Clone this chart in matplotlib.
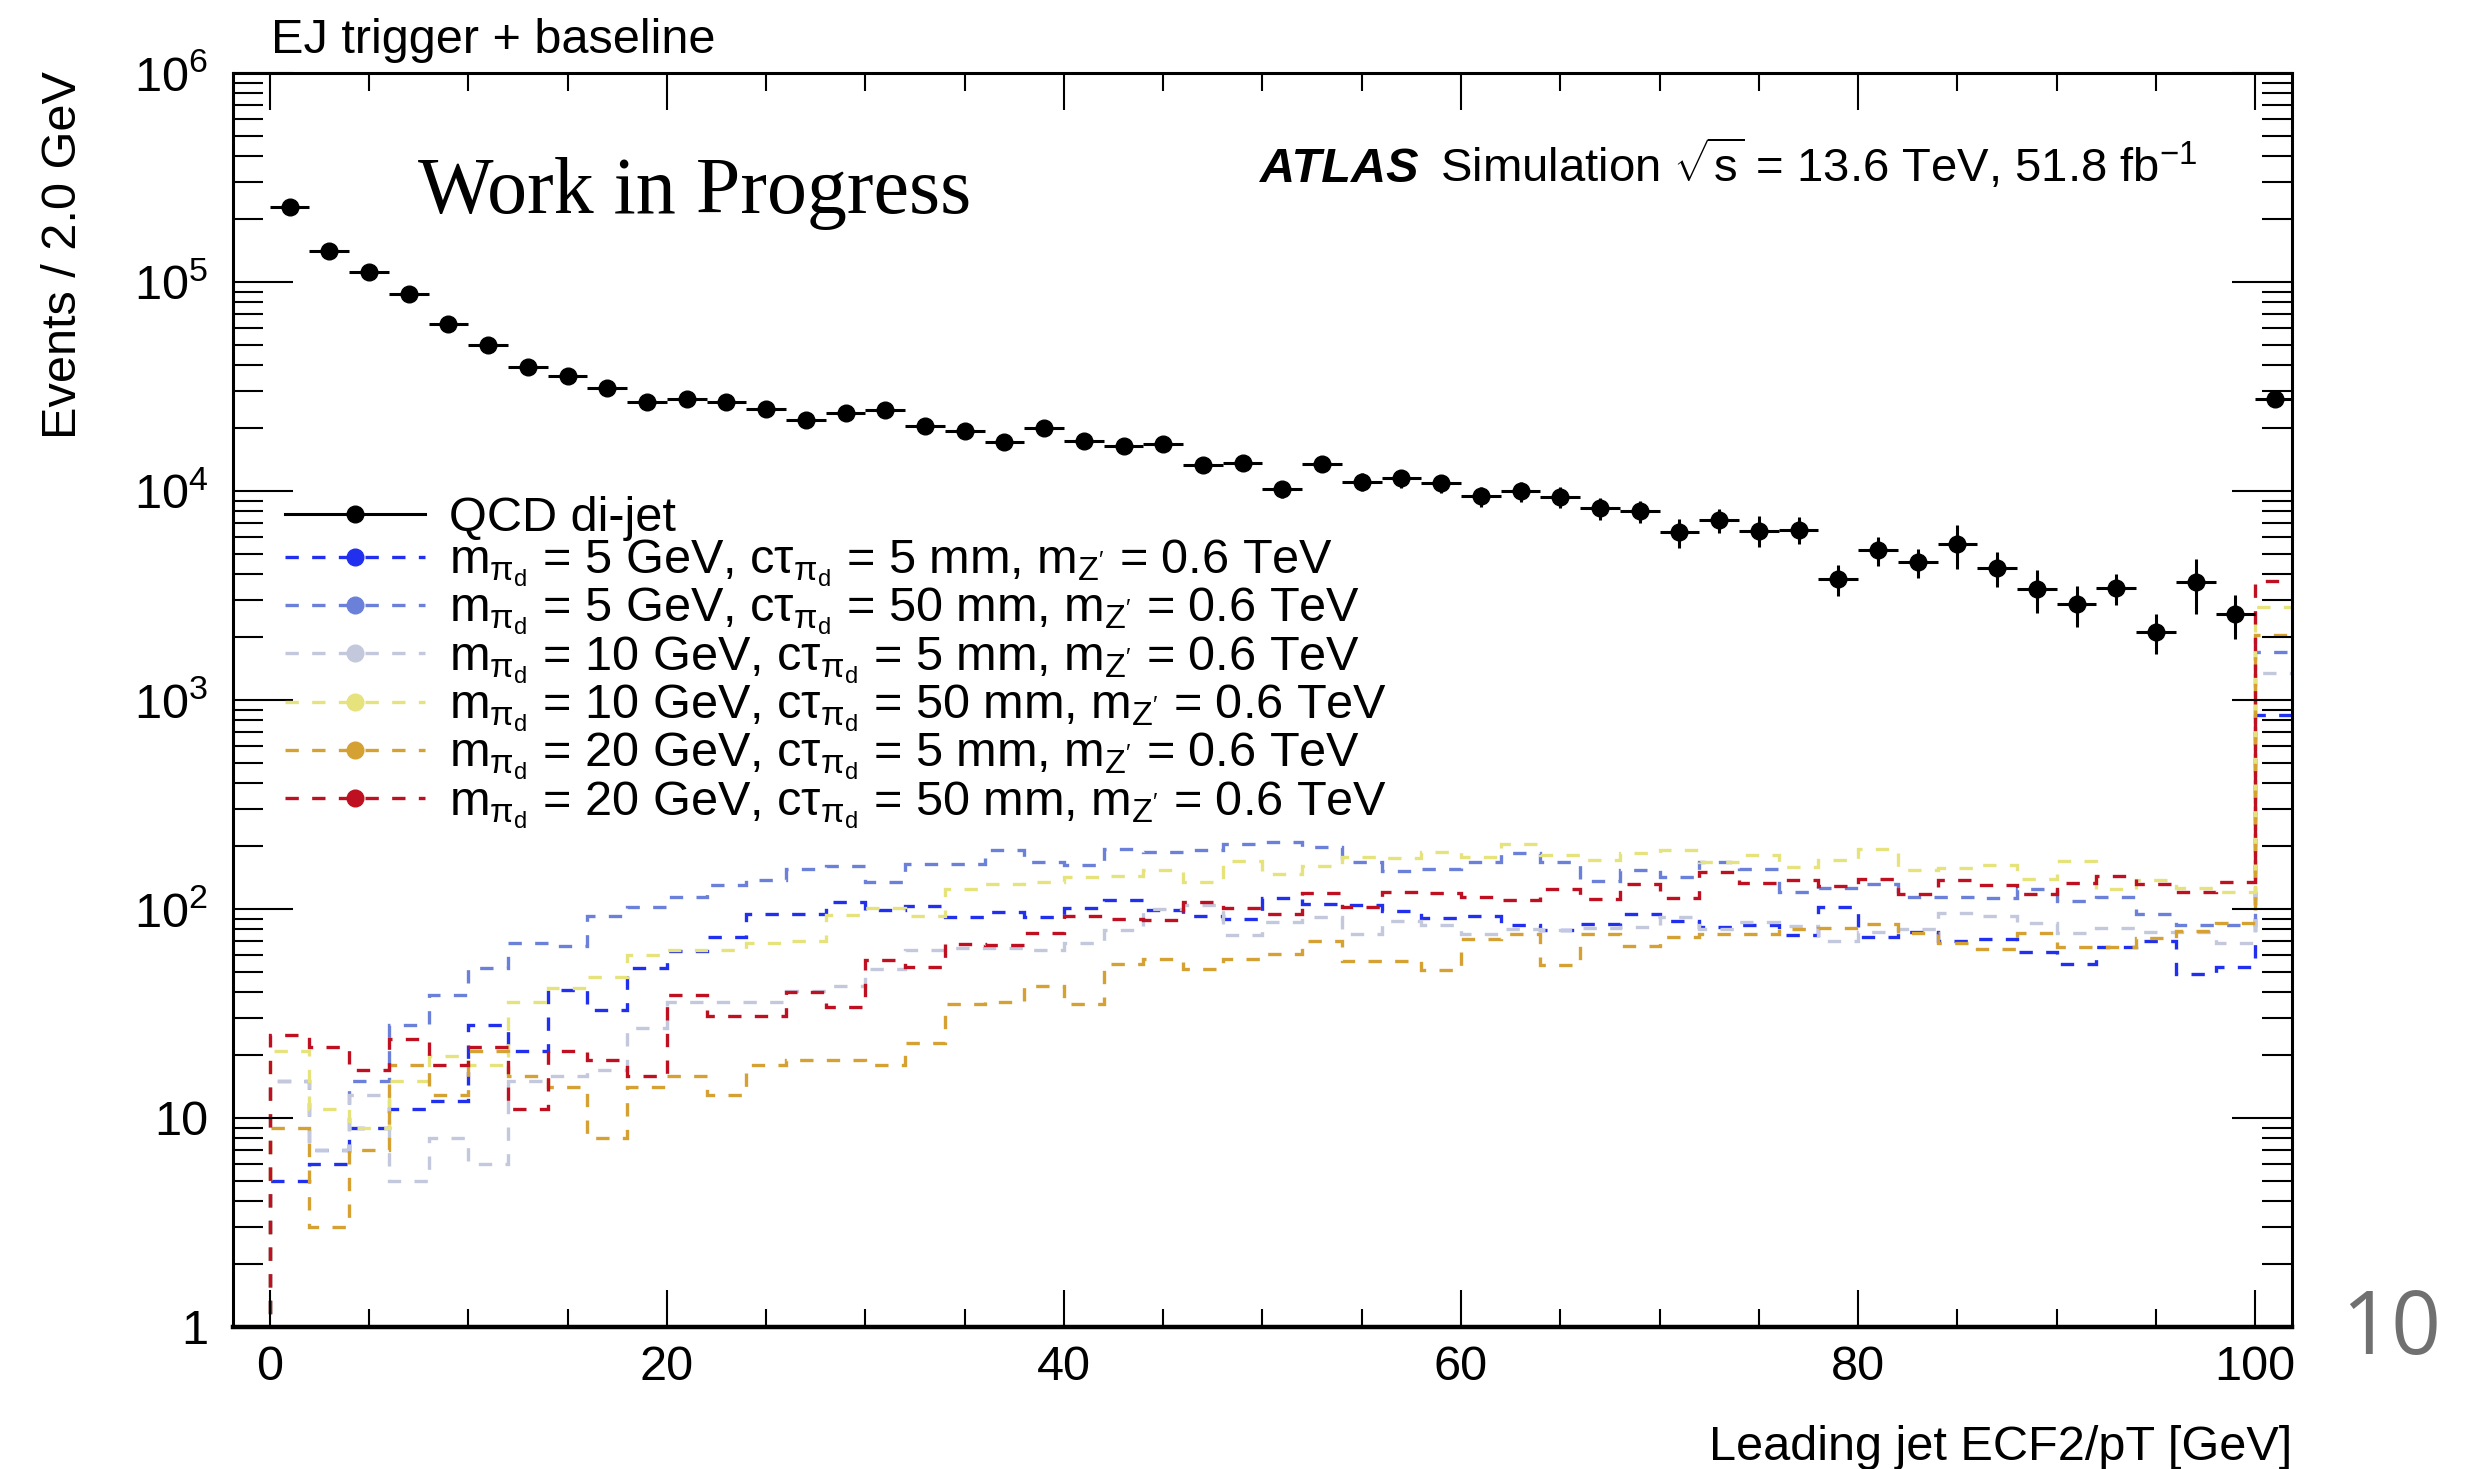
import numpy as np
import matplotlib
matplotlib.use('Agg')
import matplotlib.pyplot as plt
from matplotlib.lines import Line2D
from matplotlib.ticker import MultipleLocator, LogLocator, NullFormatter

plt.rcParams['font.family'] = ['Liberation Sans', 'DejaVu Sans']
plt.rcParams['mathtext.fontset'] = 'custom'
plt.rcParams['mathtext.rm'] = 'Liberation Sans'
plt.rcParams['mathtext.it'] = 'Liberation Sans:italic'
plt.rcParams['mathtext.bf'] = 'Liberation Sans:bold'

# bins: underflow [-2,0], 50 bins of 2 GeV, overflow [100,102]
bin_edges = np.arange(-2, 104, 2)

# QCD di-jet, bins 0..100 + overflow
qcd_vals = [229000, 141000, 112000, 87800, 63100, 50100, 39000, 35600, 31100, 26600,
            27500, 26600, 24800, 21900, 23500, 24300, 20500, 19400, 17200, 20100,
            17400, 16400, 16700, 13300, 13600, 10200, 13500, 11100, 11500, 10900,
            9440, 10000, 9380, 8250, 8000, 6350, 7250, 6470, 6540, 3780,
            5200, 4570, 5550, 4300, 3390, 2870, 3420, 2120, 3650, 2570,
            27500]
qcd_relerr = [0.02] * 9 + [0.05] * 14 + \
             [0.08, 0.08, 0.09, 0.09, 0.10, 0.10, 0.10, 0.11, 0.11, 0.12, 0.12, 0.12] + \
             [0.16, 0.13, 0.17, 0.15, 0.17, 0.16, 0.16, 0.24, 0.19, 0.23, 0.22, 0.17, 0.22, 0.29, 0.24] + \
             [0.03]

# signals, bins 0..100 (50 values), then overflow
sig_m5_ct5 = [5.0, 6.0, 9.0, 11.0, 12.0, 27.9, 21.0, 40.9, 32.8, 51.9,
              63, 73.8, 94.7, 95, 108, 99, 103, 92, 96.5, 92,
              101.5, 110, 99, 92.6, 90, 112.5, 106, 104, 98, 91,
              92.6, 84, 79, 84.6, 94.7, 88, 81.8, 84, 75, 102,
              73.8, 78, 69.9, 72, 62, 54.8, 65.5, 70.6, 49, 52.9]
sig_m5_ct50 = [15.0, 7.0, 15.0, 27.9, 38.8, 51.9, 68.6, 66.8, 92.6, 102,
               114, 130, 138, 155, 160, 134, 165, 165, 191, 168,
               162, 193, 187, 191, 205, 208, 199, 168, 152, 155,
               168, 185, 167, 136, 154, 142, 168, 155, 120, 126,
               131, 114.5, 114, 113, 125, 109.6, 114.5, 94.7, 84, 83.4]
sig_m10_ct5 = [15.0, 7.0, 12.9, 5.0, 8.0, 6.0, 15.0, 15.9, 16.9, 26.9,
               36, 36, 36, 40.3, 42.9, 51.7, 63.7, 65, 65, 63.7,
               68.6, 79.5, 100, 105, 75, 87, 92, 75.7, 87.7, 84,
               75.7, 80, 79, 81, 81.8, 92, 80, 87, 83, 69.9,
               78, 80, 95.5, 92.6, 86, 76.5, 81, 78, 78, 68.6]
sig_m10_ct50 = [21.0, 11.0, 9.0, 15.0, 19.9, 17.9, 36, 41.8, 47, 59.9,
                63.7, 63.7, 68.6, 69.9, 93.7, 101.5, 93, 124, 132, 135,
                143, 144, 154, 134, 170, 146.5, 161, 178, 176, 187,
                178, 204, 181, 171, 186, 191, 168, 182, 158, 171,
                193, 154, 157, 162, 139, 170, 125, 138, 126, 120]
sig_m20_ct5 = [9.0, 3.0, 7.0, 17.9, 12.9, 21.0, 15.9, 14.0, 8.0, 14.0,
               15.9, 12.9, 17.9, 18.9, 18.9, 17.9, 22.8, 35, 35.8, 42.9,
               35, 54.8, 57.7, 51.7, 57.7, 60.8, 70.6, 56.6, 56.6, 50.8,
               72, 75.7, 54, 75.7, 66.8, 73.8, 75.7, 75.7, 80, 81,
               85, 76.5, 68.9, 64, 77, 65.9, 65.5, 73, 78.5, 85.5]
sig_m20_ct50 = [25.0, 21.9, 16.9, 23.9, 17.9, 21.9, 11.0, 21.0, 18.9, 15.9,
                38.8, 30.8, 30.8, 40, 33.8, 56.7, 53, 67.8, 67, 76.5,
                93, 90, 89, 108, 101, 94.7, 119, 102, 121, 119,
                114, 110, 124, 111, 132, 112.5, 151, 133, 138, 129,
                139, 117.5, 138, 130, 117.5, 133, 144, 132, 120, 135]
sig_overflow = [845, 1690, 1346, 2800, 2050, 3700]
sig_underflow = 1.0

sig_series = [sig_m5_ct5, sig_m5_ct50, sig_m10_ct5, sig_m10_ct50, sig_m20_ct5, sig_m20_ct50]
sig_colors = ['#2030ee', '#6b80d8', '#c3c8dc', '#e6e27c', '#d4a132', '#be1020']
sig_masses = ['5', '5', '10', '10', '20', '20']
sig_ctaus = ['5', '50', '5', '50', '5', '50']
sub_pid = r'$_{\mathrm{π}_{\mathrm{d}}}$'
sig_labels = ['m' + sub_pid + ' = ' + m + ' GeV, cτ' + sub_pid + ' = ' + c +
              r' mm, m$_{\mathrm{Z}^{\prime}}$ = 0.6 TeV'
              for m, c in zip(sig_masses, sig_ctaus)]
qcd_label = 'QCD di-jet'

ytick_vals = [1, 10, 1e2, 1e3, 1e4, 1e5, 1e6]
ytick_labels = ['1', '10', r'10$^{2}$', r'10$^{3}$', r'10$^{4}$', r'10$^{5}$', r'10$^{6}$']

FS = 35
fig = plt.figure(figsize=(24.84, 14.69), dpi=100)
ax = fig.add_axes([0.0938, 0.0967, 0.9227 - 0.0938, 0.9503 - 0.0967])

# signal histograms
for vals, ov, col in zip(sig_series, sig_overflow, sig_colors):
    full = [sig_underflow] + list(vals) + [ov]
    ax.stairs(full, bin_edges, baseline=None, color=col, lw=2.4, ls=(0, (4, 4)))

# QCD points
qcd_x = (bin_edges[1:-1] + bin_edges[2:]) / 2
qcd_y = np.array(qcd_vals)
ax.errorbar(qcd_x, qcd_y, xerr=1, yerr=qcd_y * np.array(qcd_relerr), fmt='o', color='k',
            ms=12, elinewidth=2.2, capsize=0, zorder=5)

ax.set_yscale('log')
ax.set_xlim(-1.85, 101.85)
ax.set_ylim(1, 1e6)

ax.xaxis.set_major_locator(MultipleLocator(20))
ax.xaxis.set_minor_locator(MultipleLocator(5))
ax.set_yticks(ytick_vals, ytick_labels)
ax.yaxis.set_minor_locator(LogLocator(base=10, subs=np.arange(2, 10)))
ax.yaxis.set_minor_formatter(NullFormatter())

ax.tick_params(which='both', direction='in', top=True, right=True, labelsize=FS, width=1.5)
ax.tick_params(axis='x', which='major', length=26.5, pad=13)
ax.tick_params(axis='x', which='minor', length=13)
ax.tick_params(axis='y', which='major', length=43, pad=18)
ax.tick_params(axis='y', which='minor', length=21.5)
for sp in ax.spines.values():
    sp.set_linewidth(2.2)
ax.spines['bottom'].set_linewidth(3.2)

# legend
handles = [Line2D([], [], color='k', lw=2.2, marker='o', ms=12)]
for col in sig_colors:
    handles.append(Line2D([], [], color=col, lw=2.4, ls=(0, (4, 4)), marker='o', ms=12))
ax.legend(handles, [qcd_label] + sig_labels, loc='upper left',
          bbox_to_anchor=(0.1147, 0.6626), bbox_transform=fig.transFigure,
          frameon=False, fontsize=FS, handlelength=2.88, handletextpad=0.5,
          labelspacing=-0.06, borderpad=0, borderaxespad=0)

# labels and annotations
fig.text(0.9227, 0.006, 'Leading jet ECF2/pT [GeV]', ha='right', va='baseline', fontsize=FS)
fig.text(0.0254, 0.9517, 'Events / 2.0 GeV', rotation=90, ha='center', va='top', fontsize=FS)
fig.text(0.1091, 0.9639, 'EJ trigger + baseline', va='baseline', fontsize=FS)
fig.text(0.1683, 0.855, 'Work in Progress', va='baseline', fontsize=57.6,
         family=['Liberation Serif', 'DejaVu Serif'])
fig.text(0.5072, 0.8763, 'ATLAS', va='baseline', fontsize=FS, fontweight='bold', fontstyle='italic')
fig.text(0.5797, 0.8763, r'Simulation $\sqrt{\mathrm{s}}$ = 13.6 TeV, 51.8 fb$^{\mathrm{-1}}$',
         va='baseline', fontsize=34)
fig.text(0.9424, 0.0783, '10', va='baseline', fontsize=63, color='#707070',
         family=['Open Sans', 'DejaVu Sans'], fontweight='normal')

fig.savefig('out.png', dpi=100)
